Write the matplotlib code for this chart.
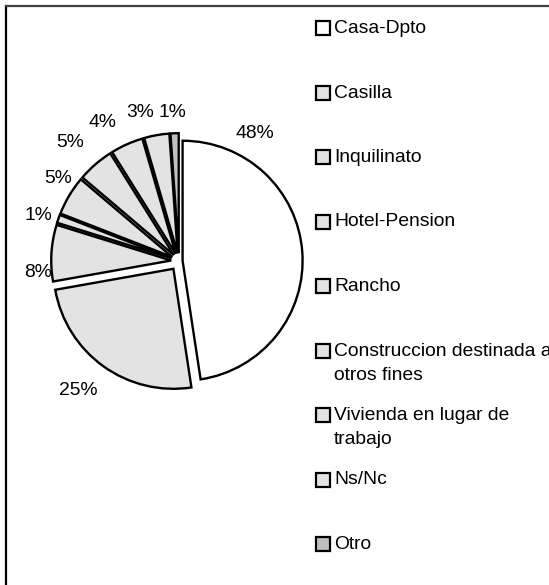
import matplotlib
matplotlib.use("Agg")
import matplotlib.pyplot as plt
from matplotlib.patches import Rectangle
from matplotlib.lines import Line2D
import numpy as np

# ---------------- data ----------------
categories = [
    "Casa-Dpto",
    "Casilla",
    "Inquilinato",
    "Hotel-Pension",
    "Rancho",
    "Construccion destinada a\notros fines",
    "Vivienda en lugar de\ntrabajo",
    "Ns/Nc",
    "Otro",
]
# shares (%); labels show them rounded
values = [47.6, 24.6, 7.6, 1.1, 5.3, 4.9, 4.4, 3.4, 1.1]

# ---------------- style ----------------
plt.rcParams["font.family"] = ["Liberation Sans", "DejaVu Sans"]
FS = 13.9
W, H = 549, 585
colors = ["#FFFFFF"] + ["#E3E3E3"] * 7 + ["#C0C0C0"]
explode = [0.03, 0.08] + [0.065] * 7
# label placement: (clockwise angle from top in degrees, distance in radii)
label_place = [(30.7, 1.24), (218, 1.365), (265.5, 1.18), (288, 1.235), (304.5, 1.22),
               (317.3, 1.34), (331.3, 1.32), (345.3, 1.28), (357.3, 1.243)]

fig = plt.figure(figsize=(W / 100, H / 100), dpi=100)

# pie axes: centre at (179, 261) px from top-left, radius 120 px
cx, cy, R = 179, 261, 120
half = 170
ax = fig.add_axes([(cx - half) / W, (H - cy - half) / H, 2 * half / W, 2 * half / H])

wedges, _ = ax.pie(values, colors=colors, explode=explode, startangle=90,
                   counterclock=False, radius=1,
                   wedgeprops=dict(edgecolor="black", linewidth=1.7, joinstyle="miter"))
lim = half / R
ax.set_xlim(-lim, lim)
ax.set_ylim(-lim, lim)
ax.set_aspect("equal")
ax.axis("off")
for w in wedges:
    w.set_clip_on(False)

for i, (w, v) in enumerate(zip(wedges, values)):
    a, d = label_place[i]
    ang = np.deg2rad(90 - a)
    ax.text(d * np.cos(ang), d * np.sin(ang), f"{v:.0f}%", ha="center", va="center",
            fontsize=FS, clip_on=False)

# overlay axes in pixel coords (y downward) for frame + legend
ov = fig.add_axes([0, 0, 1, 1])
ov.set_xlim(0, W)
ov.set_ylim(H, 0)
ov.axis("off")

# chart-area frame (only top/left visible)
ov.add_line(Line2D([6, 6], [6, H + 10], color="black", linewidth=1.6, clip_on=False))
ov.add_line(Line2D([6, W + 10], [6, 6], color="#404040", linewidth=1.6, clip_on=False))

# legend
x_sq, sq = 316, 14
x_txt = 334
base0, step, line_h = 33, 64.5, 24
for i, (cat, col) in enumerate(zip(categories, colors)):
    b = base0 + i * step
    ov.add_patch(Rectangle((x_sq, b - 12), sq, sq, facecolor=col, edgecolor="black",
                           linewidth=1.6, clip_on=False))
    for j, line in enumerate(cat.split("\n")):
        ov.text(x_txt, b + j * line_h, line, ha="left", va="baseline", fontsize=FS,
                clip_on=False)

fig.savefig("out.png", dpi=100)
